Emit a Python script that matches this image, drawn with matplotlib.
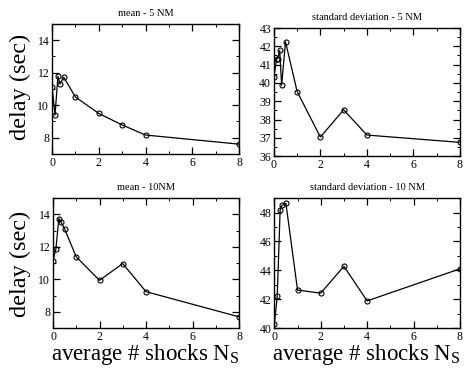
import matplotlib
matplotlib.use("Agg")
import matplotlib.pyplot as plt
from matplotlib.ticker import MultipleLocator

plt.rcParams["font.family"] = ["Liberation Serif", "DejaVu Serif"]
plt.rcParams["mathtext.fontset"] = "custom"
plt.rcParams["mathtext.rm"] = "Liberation Serif"

# average number of shocks
shocks     = [0, 0.125, 0.25, 0.333, 0.5, 1, 2, 3, 4, 8]
shocks_std5 = [0, 0.125, 0.167, 0.25, 0.333, 0.5, 1, 2, 3, 4, 8]

mean_5nm  = [11.14, 9.38, 11.78, 11.3, 11.72, 10.5, 9.49, 8.78, 8.16, 7.6]
std_5nm   = [40.34, 41.33, 41.33, 41.78, 39.88, 42.25, 39.53, 37.04, 38.53, 37.15, 36.75]
mean_10nm = [11.15, 11.88, 13.74, 13.55, 13.1, 11.38, 9.94, 10.97, 9.24, 7.69]
std_10nm  = [40.3, 42.2, 48.2, 48.5, 48.63, 42.63, 42.42, 44.28, 41.88, 44.1]

titles = ["mean - 5 NM", "standard deviation - 5 NM",
          "mean - 10NM", "standard deviation - 10 NM"]

fig = plt.figure(figsize=(4.65, 3.69), dpi=100)

# [left, bottom, width, height]
boxes = [[0.112, 0.583, 0.402, 0.352],
         [0.589, 0.577, 0.400, 0.347],
         [0.114, 0.111, 0.400, 0.352],
         [0.590, 0.111, 0.399, 0.352]]
xs     = [shocks, shocks_std5, shocks, shocks]
series = [mean_5nm, std_5nm, mean_10nm, std_10nm]
ylims  = [(7, 15), (36, 43), (7, 15), (40, 49)]
ymajor = [2, 1, 2, 2]
yminor = [1, 0.5, 1, 1]

for box, x, values, title, ylim, ymaj, ymin in zip(boxes, xs, series, titles, ylims, ymajor, yminor):
    ax = fig.add_axes(box)
    ax.plot(x, values, color="black", lw=0.9, marker="o", ms=3.6,
            mfc="none", mec="black", mew=0.8)
    ax.set_xlim(0, 8)
    ax.set_ylim(*ylim)
    ax.xaxis.set_major_locator(MultipleLocator(2))
    ax.xaxis.set_minor_locator(MultipleLocator(1))
    ax.yaxis.set_major_locator(MultipleLocator(ymaj))
    ax.yaxis.set_minor_locator(MultipleLocator(ymin))
    ax.tick_params(which="both", direction="in", top=True, right=True,
                   labelsize=8.5, pad=2)
    ax.tick_params(which="major", length=5, width=0.9)
    ax.tick_params(which="minor", length=2.5, width=0.7)
    for spine in ax.spines.values():
        spine.set_linewidth(1.0)
    ax.set_title(title, fontsize=7.5, pad=6)

fig.text(0.043, 0.765, "delay (sec)", rotation=90, fontsize=17.5,
         ha="center", va="center")
fig.text(0.043, 0.285, "delay (sec)", rotation=90, fontsize=17.5,
         ha="center", va="center")
fig.text(0.312, 0.04, r"average # shocks N$_\mathrm{S}$", fontsize=16.5,
         ha="center", va="center")
fig.text(0.787, 0.04, r"average # shocks N$_\mathrm{S}$", fontsize=16.5,
         ha="center", va="center")

fig.savefig("out.png", dpi=100)
